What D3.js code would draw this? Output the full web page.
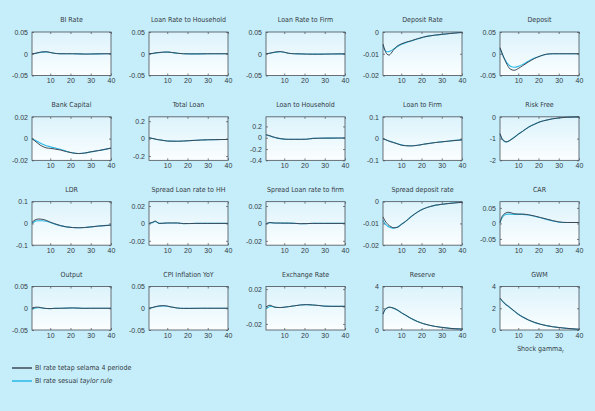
<!DOCTYPE html>
<html>
<head>
<meta charset="utf-8">
<script src="https://cdn.jsdelivr.net/npm/d3@7"></script>
<style>
  body { margin: 0; background: #c6eefa; }
  svg { display: block; font-family: "Liberation Sans Narrow", "DejaVu Sans Condensed", sans-serif; }
</style>
</head>
<body>
<svg id="chart" width="595" height="411"></svg>
<script>
var periods = [1, 2, 3, 4, 5, 6, 8, 10, 12, 15, 18, 21, 24, 27, 30, 34, 40];

var titles = ["BI Rate", "Loan Rate to Household", "Loan Rate to Firm", "Deposit Rate", "Deposit",
  "Bank Capital", "Total Loan", "Loan to Household", "Loan to Firm", "Risk Free",
  "LDR", "Spread Loan rate to HH", "Spread Loan rate to firm", "Spread deposit rate", "CAR",
  "Output", "CPI Inflation YoY", "Exchange Rate", "Reserve", "GWM"];

var yLimits = [[-0.05, 0.05], [-0.05, 0.05], [-0.05, 0.05], [-0.02, 0], [-0.05, 0.05],
  [-0.02, 0.02], [-0.25, 0.25], [-0.4, 0.37], [-0.1, 0.1], [-2, 0],
  [-0.1, 0.1], [-0.025, 0.025], [-0.025, 0.025], [-0.02, 0], [-0.07, 0.07],
  [-0.05, 0.05], [-0.05, 0.05], [-0.027, 0.023], [0, 4], [0, 4]];

var yTicks = [[-0.05, 0, 0.05], [-0.05, 0, 0.05], [-0.05, 0, 0.05], [-0.02, -0.01, 0], [-0.05, 0, 0.05],
  [-0.02, 0, 0.02], [-0.2, 0, 0.2], [-0.4, -0.2, 0, 0.2], [-0.1, 0, 0.1], [-2, -1, 0],
  [-0.1, 0, 0.1], [-0.02, 0, 0.02], [-0.02, 0, 0.02], [-0.02, -0.01, 0], [-0.05, 0, 0.05],
  [-0.05, 0, 0.05], [-0.05, 0, 0.05], [-0.02, 0, 0.02], [0, 2, 4], [0, 2, 4]];

var xTicks = [10, 20, 30, 40];

// BI rate tetap selama 4 periode
var fixedRate = [
  [0, 0.0005, 0.0015, 0.0025, 0.0035, 0.0042, 0.0045, 0.003, 0.001, 0, 0, 0, -0.0003, -0.0008, -0.0006, -0.0002, 0],
  [0, 0.0003, 0.001, 0.0018, 0.0025, 0.003, 0.0038, 0.004, 0.0032, 0.0012, 0, -0.0003, -0.0003, -0.0002, -0.0001, 0, 0],
  [0, 0.0006, 0.0015, 0.0025, 0.0035, 0.0042, 0.005, 0.0035, 0.0012, 0, -0.0003, -0.0008, -0.001, -0.001, -0.0008, -0.0005, -0.0003],
  [-0.0055, -0.0085, -0.0102, -0.0106, -0.0098, -0.0085, -0.0065, -0.0055, -0.0048, -0.004, -0.0031, -0.0023, -0.0018, -0.0014, -0.0011, -0.0007, -0.0002],
  [0.014, 0.002, -0.01, -0.02, -0.029, -0.035, -0.038, -0.034, -0.028, -0.019, -0.011, -0.005, -0.001, 0, 0, 0, 0],
  [0, -0.0015, -0.003, -0.0045, -0.006, -0.007, -0.0085, -0.009, -0.0095, -0.0105, -0.012, -0.0132, -0.0138, -0.0133, -0.0122, -0.011, -0.0088],
  [0.01, 0.005, 0, -0.005, -0.01, -0.014, -0.022, -0.028, -0.03, -0.03, -0.028, -0.024, -0.02, -0.016, -0.014, -0.012, -0.01],
  [0.055, 0.045, 0.035, 0.02, 0.01, 0, -0.015, -0.025, -0.028, -0.028, -0.028, -0.026, -0.012, -0.008, -0.007, -0.006, -0.005],
  [0, -0.004, -0.008, -0.012, -0.015, -0.018, -0.024, -0.03, -0.033, -0.034, -0.031, -0.026, -0.022, -0.018, -0.015, -0.011, -0.006],
  [-0.77, -1.0, -1.1, -1.15, -1.13, -1.08, -0.95, -0.8, -0.68, -0.48, -0.34, -0.22, -0.15, -0.09, -0.05, -0.02, 0],
  [0.005, 0.013, 0.018, 0.02, 0.02, 0.019, 0.014, 0.006, -0.001, -0.01, -0.016, -0.019, -0.02, -0.019, -0.016, -0.012, -0.008],
  [0, 0.0008, 0.0015, 0.0028, 0.0015, 0, 0.0002, 0.0005, 0.0005, 0.0005, -0.0002, -0.0002, 0, 0, 0, 0, 0],
  [-0.0005, 0.0006, 0.001, 0.0008, 0.0005, 0.0004, 0.0004, 0.0003, 0.0003, 0.0001, -0.0003, -0.0002, 0, 0, 0, 0, 0],
  [-0.007, -0.0088, -0.01, -0.011, -0.0115, -0.012, -0.0118, -0.0105, -0.0092, -0.0068, -0.0048, -0.0033, -0.0023, -0.0016, -0.0012, -0.0008, -0.0003],
  [0.003, 0.022, 0.03, 0.034, 0.036, 0.035, 0.031, 0.03, 0.03, 0.028, 0.024, 0.019, 0.014, 0.009, 0.005, 0.003, 0.003],
  [0.0005, 0.0018, 0.0025, 0.0025, 0.0018, 0.0008, -0.0005, -0.0008, -0.0003, 0, 0.0003, 0.0008, 0.0002, -0.0002, 0, 0, 0],
  [0, 0.001, 0.0022, 0.0035, 0.0045, 0.0053, 0.006, 0.005, 0.003, 0.0005, -0.0004, -0.0004, -0.0002, 0, 0, 0, 0],
  [-0.0004, 0.0008, 0.0015, 0.0005, -0.0005, -0.001, -0.0012, -0.0008, -0.0002, 0.0008, 0.0018, 0.0022, 0.0018, 0.0012, 0.0004, 0.0002, 0.0002],
  [1.48, 1.88, 2.02, 2.1, 2.08, 2.02, 1.85, 1.6, 1.38, 1.05, 0.78, 0.58, 0.43, 0.32, 0.24, 0.15, 0.09],
  [2.94, 2.7, 2.5, 2.33, 2.2, 2.05, 1.75, 1.45, 1.22, 0.93, 0.7, 0.53, 0.4, 0.3, 0.23, 0.15, 0.07]
];

// BI rate sesuai taylor rule
var taylorRate = [
  [0, 0.0003, 0.001, 0.002, 0.003, 0.0037, 0.0042, 0.003, 0.0012, 0.0002, 0, 0, -0.0002, -0.0006, -0.0005, -0.0002, 0],
  [0, 0.0002, 0.0007, 0.0014, 0.002, 0.0026, 0.0034, 0.0037, 0.003, 0.0012, 0.0001, -0.0002, -0.0002, -0.0002, -0.0001, 0, 0],
  [0, 0.0004, 0.0012, 0.0021, 0.003, 0.0037, 0.0045, 0.0033, 0.0012, 0, -0.0003, -0.0007, -0.0009, -0.0009, -0.0007, -0.0005, -0.0003],
  [-0.0063, -0.0085, -0.0091, -0.009, -0.0086, -0.008, -0.0068, -0.0058, -0.005, -0.0041, -0.0032, -0.0024, -0.0018, -0.0014, -0.0011, -0.0007, -0.0002],
  [0.012, 0, -0.01, -0.018, -0.024, -0.028, -0.031, -0.029, -0.025, -0.017, -0.01, -0.005, -0.001, 0, 0, 0, 0],
  [0, -0.001, -0.002, -0.003, -0.004, -0.005, -0.0065, -0.0075, -0.0085, -0.0098, -0.0116, -0.013, -0.0137, -0.0133, -0.0122, -0.011, -0.0088],
  [0.008, 0.004, 0, -0.005, -0.01, -0.014, -0.021, -0.027, -0.029, -0.03, -0.028, -0.024, -0.02, -0.016, -0.014, -0.012, -0.01],
  [0.05, 0.04, 0.03, 0.018, 0.008, -0.002, -0.016, -0.025, -0.028, -0.028, -0.028, -0.026, -0.012, -0.008, -0.007, -0.006, -0.005],
  [0, -0.004, -0.008, -0.011, -0.014, -0.017, -0.023, -0.029, -0.032, -0.033, -0.031, -0.026, -0.022, -0.018, -0.015, -0.011, -0.006],
  [-0.8, -1.02, -1.12, -1.15, -1.13, -1.07, -0.94, -0.8, -0.67, -0.48, -0.34, -0.22, -0.15, -0.09, -0.05, -0.02, 0],
  [0.002, 0.007, 0.011, 0.012, 0.012, 0.012, 0.01, 0.004, -0.002, -0.01, -0.016, -0.019, -0.02, -0.019, -0.016, -0.012, -0.008],
  [0, 0.0005, 0.001, 0.0022, 0.0012, 0, 0.0002, 0.0005, 0.0005, 0.0004, -0.0002, -0.0001, 0, 0, 0, 0, 0],
  [-0.001, 0.0002, 0.0007, 0.0006, 0.0004, 0.0004, 0.0004, 0.0003, 0.0003, 0.0001, -0.0003, -0.0002, 0, 0, 0, 0, 0],
  [-0.0085, -0.0102, -0.011, -0.0117, -0.012, -0.0122, -0.0118, -0.0105, -0.0092, -0.0068, -0.0048, -0.0033, -0.0023, -0.0016, -0.0012, -0.0008, -0.0003],
  [0.002, 0.018, 0.026, 0.029, 0.03, 0.03, 0.029, 0.029, 0.029, 0.027, 0.023, 0.018, 0.013, 0.008, 0.004, 0.003, 0.003],
  [-0.0015, -0.0005, 0.0005, 0.001, 0.001, 0.0005, -0.0005, -0.0008, -0.0003, 0, 0.0003, 0.0007, 0.0002, -0.0002, 0, 0, 0],
  [0, 0.0008, 0.0018, 0.003, 0.004, 0.0048, 0.0055, 0.0047, 0.003, 0.0005, -0.0004, -0.0004, -0.0002, 0, 0, 0, 0],
  [-0.0025, -0.0012, 0, 0, -0.0005, -0.001, -0.0012, -0.0008, -0.0002, 0.0008, 0.0018, 0.0022, 0.0018, 0.0012, 0.0004, 0.0002, 0.0002],
  [1.45, 1.86, 2.01, 2.09, 2.07, 2.01, 1.84, 1.6, 1.38, 1.05, 0.78, 0.58, 0.43, 0.32, 0.24, 0.15, 0.09],
  [2.92, 2.69, 2.49, 2.32, 2.19, 2.04, 1.74, 1.45, 1.22, 0.93, 0.7, 0.53, 0.4, 0.3, 0.23, 0.15, 0.07]
];

var legendLabels = ["BI rate tetap selama 4 periode", "BI rate sesuai "];

var darkColor = "#3d4856";
var cyanColor = "#27b8e6";
var textColor = "#343a44";
var fontSize = "7px";

var plotW = 79, plotH = 43.5;
var colLeft = d3.scaleLinear().domain([0, 4]).range([32, 500]);
var rowTop = d3.scaleLinear().domain([0, 3]).range([32, 286.5]);

var svg = d3.select("#chart");

var grad = svg.append("defs").append("linearGradient")
  .attr("id", "plotFill").attr("x1", 0).attr("y1", 0).attr("x2", 0).attr("y2", 1);
grad.append("stop").attr("offset", "0%").attr("stop-color", "#dcf3fb");
grad.append("stop").attr("offset", "100%").attr("stop-color", "#fbfeff");

var x = d3.scaleLinear().domain([1, 40]).range([0, plotW]);

titles.forEach(function(title, i) {
  var col = i % 5, row = Math.floor(i / 5);
  var g = svg.append("g")
    .attr("transform", "translate(" + colLeft(col) + "," + rowTop(row) + ")");
  var y = d3.scaleLinear().domain(yLimits[i]).range([plotH, 0]);

  g.append("rect")
    .attr("width", plotW).attr("height", plotH)
    .attr("fill", "url(#plotFill)");

  var line = d3.line()
    .x(function(d, k) { return x(periods[k]); })
    .y(function(d) { return y(d); })
    .curve(d3.curveMonotoneX);

  g.append("path").datum(taylorRate[i])
    .attr("d", line).attr("fill", "none")
    .attr("stroke", cyanColor).attr("stroke-width", 1.1);
  g.append("path").datum(fixedRate[i])
    .attr("d", line).attr("fill", "none")
    .attr("stroke", darkColor).attr("stroke-width", 1);

  // axes, ticks pointing inward like the original figure
  var ax = g.append("g").attr("transform", "translate(0," + plotH + ")")
    .call(d3.axisBottom(x).tickValues(xTicks).tickSize(-2).tickPadding(3));
  var axTop = g.append("g")
    .call(d3.axisTop(x).tickValues(xTicks).tickSize(-2).tickFormat(""));
  var ay = g.append("g")
    .call(d3.axisLeft(y).tickValues(yTicks[i]).tickSize(-2).tickPadding(4).tickFormat(function(d) { return String(d); }));
  var ayR = g.append("g").attr("transform", "translate(" + plotW + ",0)")
    .call(d3.axisRight(y).tickValues(yTicks[i]).tickSize(-2).tickFormat(""));

  [ax, axTop, ay, ayR].forEach(function(a) {
    a.select(".domain").remove();
    a.selectAll("line").attr("stroke", "#4a4f57").attr("stroke-width", 0.7);
    a.selectAll("text").attr("fill", textColor).style("font-size", fontSize)
      .style("font-family", null);
  });

  g.append("rect")
    .attr("width", plotW).attr("height", plotH)
    .attr("fill", "none").attr("stroke", "#4a4f57").attr("stroke-width", 0.8);

  g.append("text")
    .attr("x", plotW / 2).attr("y", -10)
    .attr("text-anchor", "middle")
    .attr("fill", textColor)
    .style("font-size", fontSize)
    .text(title);
});

// note under the last panel
var note = svg.append("text")
  .attr("x", colLeft(4) + plotW / 2 + 1).attr("y", 351)
  .attr("text-anchor", "middle").attr("fill", textColor).style("font-size", fontSize);
note.append("tspan").text("Shock gamma");
note.append("tspan").attr("dy", 1.5).style("font-size", "4.8px").text("r");

// legend
var legend = svg.append("g");
[darkColor, cyanColor].forEach(function(c, k) {
  var ly = 368 + k * 13;
  legend.append("line")
    .attr("x1", 12).attr("x2", 32).attr("y1", ly).attr("y2", ly)
    .attr("stroke", c).attr("stroke-width", 1.5);
  var t = legend.append("text")
    .attr("x", 35).attr("y", ly + 2.4)
    .attr("fill", textColor).style("font-size", fontSize);
  t.append("tspan").text(legendLabels[k]);
  if (k == 1) t.append("tspan").style("font-style", "italic").text("taylor rule");
});
</script>
</body>
</html>
